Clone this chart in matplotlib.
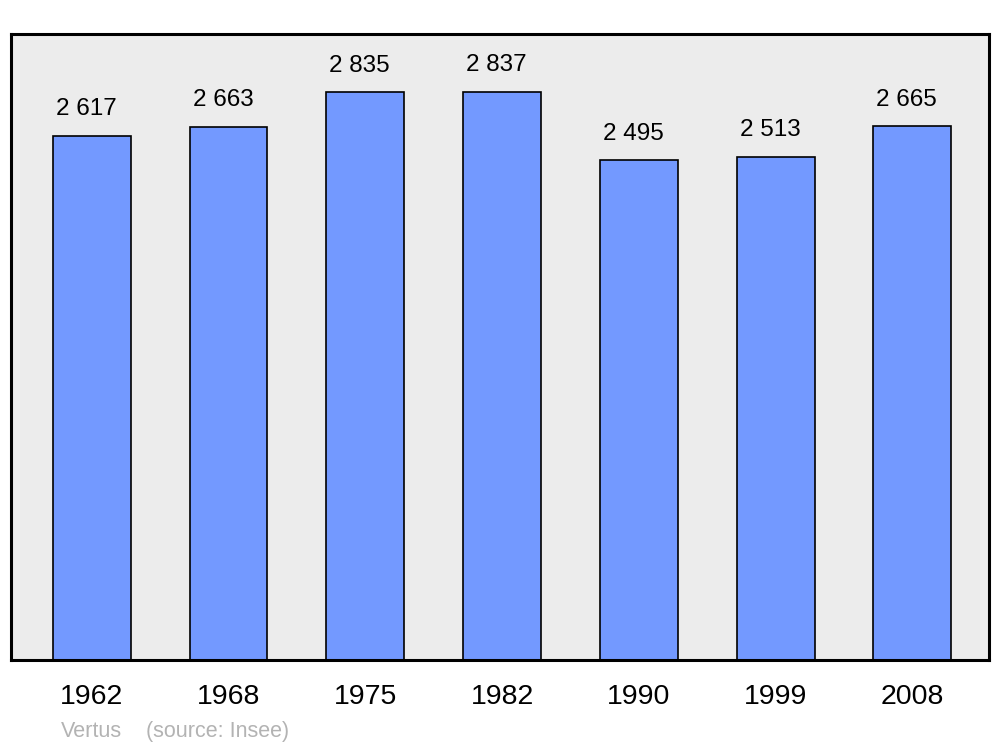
import matplotlib.pyplot as plt

plt.rcParams['font.family'] = ['Liberation Sans', 'DejaVu Sans']

# population figures
years = ["1962", "1968", "1975", "1982", "1990", "1999", "2008"]
population = [2617, 2663, 2835, 2837, 2495, 2513, 2665]
value_labels = ["2 617", "2 663", "2 835", "2 837", "2 495", "2 513", "2 665"]

fig = plt.figure(figsize=(10, 7.47), dpi=100)
ax = fig.add_axes([0.011, 0.1165, 0.978, 0.838])
ax.set_facecolor("#ececec")

x = range(len(years))
bars = ax.bar(x, population, width=0.57, color="#7399ff",
              edgecolor="black", linewidth=1.2)

# labels sit a little left of the bar centre in the original
for b, lab in zip(bars, value_labels):
    ax.annotate(lab, (b.get_x() + b.get_width() / 2, b.get_height()),
                xytext=(-4, 11), textcoords="offset points",
                ha="center", va="bottom", fontsize=17.5)

ax.set_xlim(-0.59, 6.56)
ax.set_ylim(0, 3125)
ax.set_xticks(list(x))
ax.set_xticklabels(years, fontsize=20.5)
ax.tick_params(axis="x", length=0, pad=17)
ax.set_yticks([])
for s in ax.spines.values():
    s.set_linewidth(2.2)

fig.text(0.061, 0.013, "Vertus", color="#b3b3b3", fontsize=15.5)
fig.text(0.146, 0.013, "(source: Insee)", color="#b3b3b3", fontsize=15.5)

fig.savefig("out.png", dpi=100)
